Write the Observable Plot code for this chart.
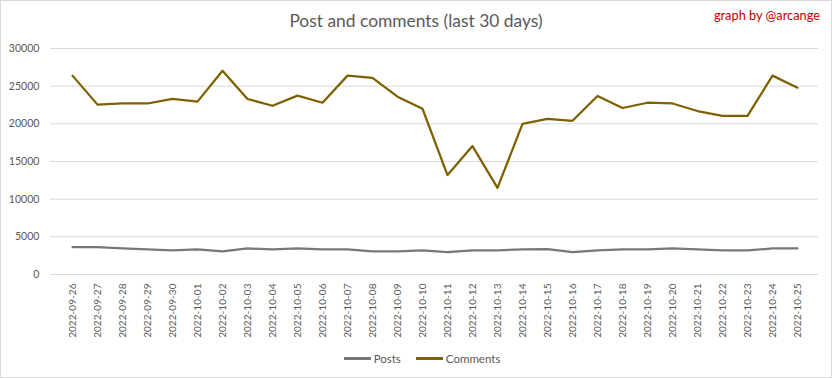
<!DOCTYPE html>
<html><head><meta charset="utf-8">
<script src="https://cdn.jsdelivr.net/npm/d3@7"></script>
<script src="https://cdn.jsdelivr.net/npm/@observablehq/plot@0.6"></script>
<style>
html,body{margin:0;padding:0;background:#fff;}
#wrap{position:relative;width:832px;height:378px;box-sizing:border-box;overflow:hidden;font-family:Lato,"Open Sans",sans-serif;}
#frame{position:absolute;left:0;top:0;width:830px;height:376px;border:1px solid #d9d9d9;pointer-events:none;}
#title{position:absolute;left:0;width:832px;top:10px;text-align:center;font-size:17.4px;color:#595959;}
#credit{position:absolute;right:12px;top:7px;font-size:12.8px;color:#c00000;}
#legend{position:absolute;top:352px;left:0;width:832px;display:flex;justify-content:center;font-size:11.5px;color:#595959;gap:15px;margin-left:6px;}
#legend span{display:flex;align-items:center;}
#legend i{display:inline-block;width:27px;height:2.2px;margin-right:3px;}
svg{position:absolute;left:0;top:0;}
</style></head>
<body><div id="wrap"><div id="chart"></div><div id="title"></div><div id="credit"></div><div id="legend"></div><div id="frame"></div></div>
<script>
const titleText = "Post and comments (last 30 days)";
const creditText = "graph by @arcange";
const dates = ["2022-09-26","2022-09-27","2022-09-28","2022-09-29","2022-09-30","2022-10-01","2022-10-02","2022-10-03","2022-10-04","2022-10-05","2022-10-06","2022-10-07","2022-10-08","2022-10-09","2022-10-10","2022-10-11","2022-10-12","2022-10-13","2022-10-14","2022-10-15","2022-10-16","2022-10-17","2022-10-18","2022-10-19","2022-10-20","2022-10-21","2022-10-22","2022-10-23","2022-10-24","2022-10-25"];
const posts = [3640,3620,3460,3330,3200,3330,3060,3460,3330,3460,3330,3330,3060,3060,3200,2970,3200,3200,3330,3380,2970,3200,3330,3330,3460,3330,3200,3200,3460,3460];
const comments = [26400,22550,22700,22700,23300,22950,27040,23300,22400,23750,22800,26400,26100,23600,22000,13200,17050,11500,20000,20650,20400,23700,22100,22800,22700,21700,21050,21050,26400,24800];
const yTicks = [0,5000,10000,15000,20000,25000,30000];
const seriesNames = ["Posts","Comments"];
const seriesColors = ["#787878","#7f6000"];

const rows = [];
dates.forEach((d,i)=>{
  rows.push({date:d, series:"Posts", value:posts[i]});
  rows.push({date:d, series:"Comments", value:comments[i]});
});

const chart = Plot.plot({
  width: 832, height: 378,
  marginTop: 48, marginBottom: 104, marginLeft: 50, marginRight: 14,
  style: {fontFamily: "Lato, 'Open Sans', sans-serif", fontSize: "10.5px", color: "#595959", background: "transparent"},
  x: {type: "point", domain: dates, padding: 0.5, label: null},
  y: {domain: [0, 30000], label: null},
  color: {domain: seriesNames, range: seriesColors},
  marks: [
    Plot.gridY(yTicks, {stroke: "#d9d9d9", strokeOpacity: 1, strokeWidth: 1}),
    Plot.axisY(yTicks, {tickSize: 0, tickPadding: 11, tickFormat: d => String(d), fontSize: 10.6, fill: "#595959"}),
    Plot.axisX({tickSize: 0, tickRotate: -90, tickPadding: 9, fontSize: 10.1, fill: "#595959"}),
    Plot.line(rows, {x: "date", y: "value", z: "series", stroke: "series", strokeWidth: 2.25, strokeLinejoin: "round"})
  ]
});
document.getElementById("chart").appendChild(chart);
document.getElementById("title").textContent = titleText;
document.getElementById("credit").textContent = creditText;
const lg = document.getElementById("legend");
seriesNames.forEach((n,i)=>{
  const s = document.createElement("span");
  const sw = document.createElement("i");
  sw.style.background = seriesColors[i];
  s.appendChild(sw);
  s.appendChild(document.createTextNode(n));
  lg.appendChild(s);
});
</script></body></html>
